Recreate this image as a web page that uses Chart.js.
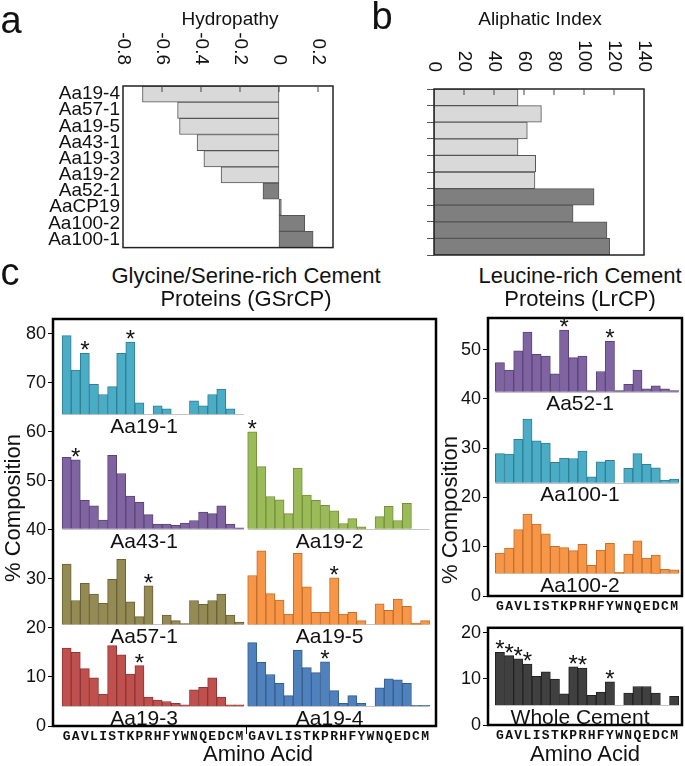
<!DOCTYPE html>
<html>
<head>
<meta charset="utf-8">
<script src="https://cdn.jsdelivr.net/npm/chart.js@4.4.1/dist/chart.umd.min.js"></script>
<style>
  body { margin: 0; background: #fff; }
  #page { position: relative; width: 685px; height: 766px; overflow: hidden; font-family: "Liberation Sans", Arial, sans-serif; color: #111; }
  canvas { position: absolute; }
  .t { position: absolute; transform: translate(-50%, -50%); white-space: nowrap; line-height: 1; }
  .v { transform: translate(-50%, -50%) rotate(-90deg); }
</style>
</head>
<body>
<div id="page">
  <canvas id="chartA" style="left:0;top:0" width="345" height="262"></canvas>
  <canvas id="chartB" style="left:345px;top:0" width="340" height="262"></canvas>
  <canvas id="chartL" style="left:0;top:300px" width="450" height="446"></canvas>
  <canvas id="chartR" style="left:455px;top:300px" width="230" height="320"></canvas>
  <canvas id="chartW" style="left:455px;top:615px" width="230" height="135"></canvas>

  <div class="t" style="left:11px;top:20px;font-size:38px">a</div>
  <div class="t" style="left:382px;top:16px;font-size:38px">b</div>
  <div class="t" style="left:10px;top:272px;font-size:38px">c</div>
  <div class="t" style="left:230px;top:18px;font-size:19px">Hydropathy</div>
  <div class="t" style="left:540px;top:18px;font-size:19px">Aliphatic Index</div>
  <div class="t" style="left:246px;top:276px;font-size:22px">Glycine/Serine-rich Cement</div>
  <div class="t" style="left:246px;top:299px;font-size:22px">Proteins (GSrCP)</div>
  <div class="t" style="left:580px;top:276px;font-size:22px">Leucine-rich Cement</div>
  <div class="t" style="left:580px;top:299px;font-size:22px">Proteins (LrCP)</div>
  <div class="t v" style="left:13px;top:508px;font-size:22px">% Composition</div>
  <div class="t v" style="left:450px;top:510px;font-size:22px">% Composition</div>
  <div class="t" style="left:258px;top:754px;font-size:22px">Amino Acid</div>
  <div class="t" style="left:585px;top:754px;font-size:22px">Amino Acid</div>
</div>
<script>
// panels a and b
const proteins = ["Aa19-4", "Aa57-1", "Aa19-5", "Aa43-1", "Aa19-3", "Aa19-2", "Aa52-1", "AaCP19", "Aa100-2", "Aa100-1"];
const hydropathy = [-0.70, -0.52, -0.51, -0.42, -0.385, -0.297, -0.082, 0.012, 0.132, 0.175];
const aliphaticIndex = [56, 71.6, 62.2, 56, 67.8, 67.3, 106.7, 92.7, 115.3, 117.1];

// panel c: % composition per amino acid (bar heights above each baseline)
const aminoAcids = ["G", "A", "V", "L", "I", "S", "T", "K", "P", "R", "H", "F", "Y", "W", "N", "Q", "E", "D", "C", "M"];
const aa19_1 = [16.0, 9.0, 12.4, 6.1, 4.0, 5.6, 12.4, 14.7, 2.3, 0, 1.7, 1.1, 0, 0, 2.7, 1.7, 4.0, 5.1, 1.1, 0];
const aa43_1 = [14.6, 14.1, 5.8, 4.7, 1.8, 15.0, 11.3, 6.7, 5.4, 2.9, 1.0, 1.0, 0.7, 1.2, 1.7, 3.4, 3.1, 4.7, 1.0, 0.2];
const aa57_1 = [12.3, 4.9, 8.4, 6.2, 4.3, 9.2, 13.3, 4.6, 1.6, 7.9, 0, 1.9, 0.8, 0.2, 4.9, 4.1, 4.9, 6.2, 1.9, 0.5];
const aa19_3 = [11.8, 10.9, 7.6, 5.7, 2.4, 12.3, 10.4, 6.5, 8.2, 1.8, 1.2, 0.9, 0.5, 0.2, 3.3, 3.8, 5.7, 1.8, 0.2, 0.2];
const aa19_2 = [19.8, 12.7, 6.6, 5.9, 3.1, 12.4, 6.9, 5.8, 4.8, 3.7, 1.1, 2.1, 0.4, 0, 2.5, 4.6, 1.7, 5.2, 0, 0];
const aa19_5 = [10.0, 15.0, 6.3, 5.0, 2.1, 14.5, 7.7, 2.5, 2.5, 9.5, 2.1, 2.5, 0.8, 0, 4.2, 2.9, 5.2, 3.7, 0.3, 0.8];
const aa19_4 = [12.9, 8.9, 6.4, 4.6, 2.1, 11.4, 7.8, 6.8, 9.0, 3.1, 0.5, 2.1, 0.5, 0, 3.7, 5.5, 5.3, 4.6, 0.1, 0.1];
const aa52_1 = [5.9, 4.4, 8.3, 12.1, 7.6, 7.2, 3.6, 12.5, 6.9, 7.2, 0.2, 4.1, 10.2, 0.2, 1.5, 4.4, 0.6, 1.2, 0.6, 0.2];
const aa100_1 = [5.9, 5.8, 8.8, 12.9, 8.5, 8.0, 4.1, 5.0, 4.9, 6.4, 1.2, 4.2, 4.5, 0, 2.9, 5.9, 3.7, 3.0, 0.5, 0.7];
const aa100_2 = [4.1, 5.1, 8.9, 12.0, 10.0, 8.0, 5.5, 5.2, 4.6, 5.9, 1.6, 4.7, 6.1, 0.2, 3.9, 6.6, 3.1, 3.7, 0.8, 0.7];
const wholeCement = [11.4, 10.7, 10.0, 8.9, 6.2, 7.2, 5.6, 2.4, 8.3, 8.0, 2.1, 2.8, 5.0, 0, 2.6, 4.0, 4.0, 2.6, 0, 1.9];

const gsNames = ["Aa19-1", "Aa43-1", "Aa57-1", "Aa19-3", "Aa19-2", "Aa19-5", "Aa19-4"];
const gsSeries = [aa19_1, aa43_1, aa57_1, aa19_3, aa19_2, aa19_5, aa19_4];
const gsBaselines = [63.6, 40.2, 20.7, 4.1, 40.2, 20.7, 4.1];
const gsStars = [[2, 7], [1], [9], [8], [0], [9], [8]];
const gsColumn = [0, 0, 0, 0, 1, 1, 1];
const lrNames = ["Aa52-1", "Aa100-1", "Aa100-2"];
const lrSeries = [aa52_1, aa100_1, aa100_2];
const lrBaselines = [41.45, 23.0, 4.6];
const lrStars = [[7, 12], [], []];
const wholeBaseline = 4.35;
const wholeStars = [0, 1, 2, 3, 8, 9, 12];

const gsColors = ["#4bacc6", "#8064a2", "#948a54", "#c0504d", "#9bbb59", "#f79646", "#4f81bd"];
const gsBorders = ["#2f7f95", "#5a4478", "#6a6238", "#8f3533", "#748f3d", "#c46e2c", "#365d8d"];
const lrColors = ["#8064a2", "#4bacc6", "#f79646"];
const lrBorders = ["#5a4478", "#2f7f95", "#c46e2c"];

Chart.defaults.font.family = '"Liberation Sans", Arial, sans-serif';
Chart.defaults.color = "#111";

const SANS = '"Liberation Sans", Arial, sans-serif';
const MONO = { family: '"Liberation Mono", "Courier New", monospace', size: 13, weight: "bold" };

// horizontal bar panels: frame, inner tick marks, rotated tick labels
function hbarDecor(labelBottom) {
  return {
    id: "hbarDecor",
    afterDatasetsDraw(chart) {
      const ctx = chart.ctx, a = chart.chartArea, x = chart.scales.x;
      ctx.save();
      ctx.strokeStyle = "#222";
      ctx.lineWidth = 1.5;
      ctx.strokeRect(a.left, a.top, a.right - a.left, a.bottom - a.top);
      ctx.lineWidth = 1;
      ctx.strokeStyle = "#444";
      ctx.fillStyle = "#111";
      ctx.font = "19px " + SANS;
      ctx.textAlign = "right";
      ctx.textBaseline = "middle";
      x.ticks.forEach((t) => {
        const px = x.getPixelForValue(t.value);
        if (px > a.left + 2 && px < a.right - 2) {
          ctx.beginPath();
          ctx.moveTo(px, a.top);
          ctx.lineTo(px, a.top + 6);
          ctx.stroke();
        }
        ctx.save();
        ctx.translate(px, labelBottom);
        ctx.rotate(Math.PI / 2);
        ctx.fillText(String(Math.round(t.value * 10) / 10), 0, 0);
        ctx.restore();
      });
      ctx.restore();
    },
  };
}

// stacked composition panels: baselines, asterisks, protein names, frame
function cementDecor(names, bases, stars, shift, gap) {
  return {
    id: "cementDecor",
    beforeDatasetsDraw(chart) {
      const ctx = chart.ctx, y = chart.scales.y;
      ctx.save();
      ctx.strokeStyle = "#c4c4c4";
      ctx.lineWidth = 1;
      names.forEach((n, i) => {
        const bars = chart.getDatasetMeta(i).data;
        const first = bars[0], last = bars[bars.length - 1];
        const py = Math.round(y.getPixelForValue(bases[i])) + 0.5;
        ctx.beginPath();
        ctx.moveTo(first.x - first.width / 2, py);
        ctx.lineTo(last.x + last.width / 2, py);
        ctx.stroke();
      });
      ctx.restore();
    },
    afterDatasetsDraw(chart) {
      const ctx = chart.ctx, y = chart.scales.y, a = chart.chartArea;
      ctx.save();
      ctx.fillStyle = "#111";
      ctx.textAlign = "center";
      names.forEach((n, i) => {
        const bars = chart.getDatasetMeta(i).data;
        ctx.font = "24px " + SANS;
        ctx.textBaseline = "alphabetic";
        (stars[i] || []).forEach((k) => ctx.fillText("*", bars[k].x, bars[k].y + 5));
        const mid = (bars[0].x + bars[bars.length - 1].x) / 2;
        ctx.font = "21px " + SANS;
        ctx.textBaseline = "middle";
        ctx.fillText(n, mid + shift, y.getPixelForValue(bases[i]) + 13);
      });
      ctx.strokeStyle = "#000";
      ctx.lineWidth = 2.5;
      ctx.strokeRect(a.left, a.top, a.right - a.left, a.bottom - a.top);
      if (gap != null) {
        const gx = Math.round(chart.scales.x.getPixelForValue(gap)) + 0.5;
        ctx.lineWidth = 1;
        ctx.beginPath();
        ctx.moveTo(gx, a.bottom);
        ctx.lineTo(gx, a.bottom + 8);
        ctx.stroke();
      }
      ctx.restore();
    },
  };
}

function hbarChart(id, values, xmin, xmax, step, yWidth, xHeight, pad, showNames, labelBottom) {
  return new Chart(document.getElementById(id), {
    type: "bar",
    data: {
      labels: proteins,
      datasets: [{
        data: values,
        backgroundColor: proteins.map((p, i) => (i < 6 ? "#d9d9d9" : "#7f7f7f")),
        borderColor: "#555",
        borderWidth: 1,
        borderSkipped: false,
        barPercentage: 1,
        categoryPercentage: 1,
      }],
    },
    options: {
      indexAxis: "y",
      responsive: false,
      animation: false,
      layout: { padding: pad },
      plugins: { legend: { display: false }, tooltip: { enabled: false } },
      scales: {
        x: {
          position: "top",
          min: xmin,
          max: xmax,
          afterFit: (ax) => { ax.height = xHeight; },
          grid: { display: false },
          border: { display: false },
          ticks: { display: false, stepSize: step, includeBounds: false },
        },
        y: {
          afterFit: (ax) => { ax.width = yWidth; },
          border: { display: false },
          grid: showNames
            ? { display: false, drawTicks: false }
            : { display: true, drawOnChartArea: false, drawTicks: true, tickLength: 7, offset: true, color: "#555" },
          ticks: { display: showNames, autoSkip: false, padding: 3, color: "#111", font: { size: 19 } },
        },
      },
    },
    plugins: [hbarDecor(labelBottom)],
  });
}

hbarChart("chartA", hydropathy, -0.8, 0.277, 0.2, 123, 86, { right: 12, bottom: 9 }, true, 65);
hbarChart("chartB", aliphaticIndex, 0, 140, 20, 89, 89, { right: 41, bottom: 7 }, false, 72);

function compChart(id, names, series, bases, columnOffsets, colors, borders, xmax, ymax, tickPos,
                   yWidth, xHeight, pad, stars, shift, gap) {
  return new Chart(document.getElementById(id), {
    type: "bar",
    data: {
      datasets: names.map((n, i) => ({
        label: n,
        data: series[i].map((h, k) => ({ x: k + columnOffsets[i], y: [bases[i], bases[i] + h] })),
        backgroundColor: colors[i],
        borderColor: borders[i],
        borderWidth: 1,
        grouped: false,
        barPercentage: 1,
        categoryPercentage: 1,
      })),
    },
    options: {
      responsive: false,
      animation: false,
      layout: { padding: pad },
      plugins: { legend: { display: false }, tooltip: { enabled: false } },
      scales: {
        x: {
          type: "linear",
          offset: false,
          min: 0,
          max: xmax,
          afterBuildTicks: (ax) => { ax.ticks = tickPos.map((v) => ({ value: v })); },
          afterFit: (ax) => { ax.height = xHeight; },
          grid: { display: false, drawTicks: false },
          border: { display: false },
          ticks: {
            autoSkip: false,
            maxRotation: 0,
            minRotation: 0,
            padding: 3,
            color: "#111",
            font: MONO,
            callback: (v, i) => aminoAcids[i % aminoAcids.length],
          },
        },
        y: {
          min: 0,
          max: ymax,
          afterFit: (ax) => { ax.width = yWidth; },
          border: { display: false },
          grid: { display: true, drawOnChartArea: false, drawTicks: true, tickLength: 5, color: "#000" },
          ticks: { stepSize: 10, includeBounds: false, padding: 2, color: "#111", font: { size: 18 } },
        },
      },
    },
    plugins: [cementDecor(names, bases, stars, shift, gap)],
  });
}

const leftPos = aminoAcids.map((a, i) => i + 1.5).concat(aminoAcids.map((a, i) => i + 21.9));
const rightPos = aminoAcids.map((a, i) => i + 1.3);

compChart("chartL", gsNames, gsSeries, gsBaselines, gsColumn.map((c) => (c ? 21.9 : 1.5)),
  gsColors, gsBorders, 42.1, 83, leftPos, 53, 20, { top: 19, right: 14 }, gsStars, -9, 21.2);

compChart("chartR", lrNames, lrSeries, lrBaselines, [1.3, 1.3, 1.3],
  lrColors, lrBorders, 21.16, 56.4, rightPos, 33, 24, { top: 18, right: 3 }, lrStars, -7, null);

compChart("chartW", ["Whole Cement"], [wholeCement], [wholeBaseline], [1.3],
  ["#404040"], ["#222"], 21.16, 21.1, rightPos, 33, 25, { top: 8, right: 3 }, [wholeStars], -7, null);
</script>
</body>
</html>
